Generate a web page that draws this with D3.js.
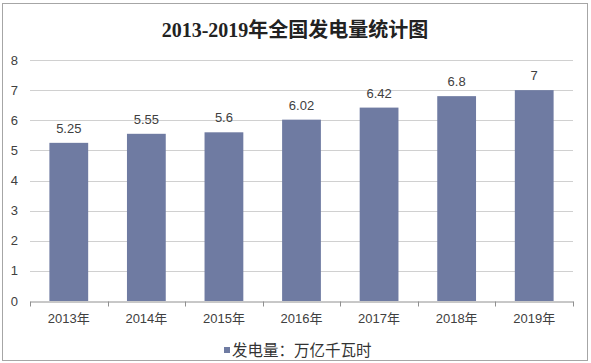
<!DOCTYPE html>
<html lang="zh">
<head>
<meta charset="utf-8">
<title>2013-2019年全国发电量统计图</title>
<script src="https://cdn.jsdelivr.net/npm/d3@7"></script>
<style>
  html, body { margin:0; padding:0; background:#fff; overflow:hidden }
  svg { display:block }
</style>
</head>
<body>
<svg id="chart"></svg>
<script>
  // data
  var years = ["2013年", "2014年", "2015年", "2016年", "2017年", "2018年", "2019年"];
  var power = [5.25, 5.55, 5.6, 6.02, 6.42, 6.8, 7];
  var yTicks = [0, 1, 2, 3, 4, 5, 6, 7, 8];
  var seriesName = "发电量：万亿千瓦时";

  var width = 591, height = 363;
  var plot = {left: 30, right: 573, top: 60, bottom: 301};
  var barColor = "#6f7ba2";
  var font = "'Liberation Sans', Arial, 'Noto Sans CJK SC', sans-serif";

  var svg = d3.select("#chart").attr("width", width).attr("height", height);

  // outer frame
  svg.append("rect")
     .attr("x", 2.5).attr("y", 3.5)
     .attr("width", width - 6).attr("height", height - 6)
     .attr("fill", "#fff").attr("stroke", "#a6a6a6");

  var x = d3.scaleBand()
     .domain(years)
     .range([plot.left, plot.right])
     .paddingInner(0.5)
     .paddingOuter(0.25);

  var y = d3.scaleLinear()
     .domain([0, 8])
     .range([plot.bottom, plot.top]);

  // gridlines
  svg.append("g")
     .selectAll("line")
     .data(yTicks.slice(1))
     .enter().append("line")
     .attr("x1", plot.left).attr("x2", plot.right)
     .attr("y1", function(d) { return Math.round(y(d)) + 0.5; })
     .attr("y2", function(d) { return Math.round(y(d)) + 0.5; })
     .attr("stroke", "#d0d0d0");

  // y labels
  svg.append("g")
     .selectAll("text")
     .data(yTicks)
     .enter().append("text")
     .attr("x", 18).attr("y", function(d) { return y(d) + 4.5; })
     .attr("text-anchor", "end")
     .attr("font-family", font).attr("font-size", 13).attr("fill", "#404040")
     .text(function(d) { return d; });

  // bars
  svg.append("g")
     .selectAll("rect")
     .data(power)
     .enter().append("rect")
     .attr("x", function(d, i) { return x(years[i]); })
     .attr("y", function(d) { return y(d); })
     .attr("width", x.bandwidth())
     .attr("height", function(d) { return y(0) - y(d); })
     .attr("fill", barColor);

  // value labels
  svg.append("g")
     .selectAll("text")
     .data(power)
     .enter().append("text")
     .attr("x", function(d, i) { return x(years[i]) + x.bandwidth() / 2; })
     .attr("y", function(d) { return y(d) - 10; })
     .attr("text-anchor", "middle")
     .attr("font-family", font).attr("font-size", 13).attr("fill", "#404040")
     .text(function(d) { return d; });

  // x axis
  var xAxis = d3.axisBottom(x).tickSize(0).tickPadding(12);
  var gx = svg.append("g")
     .attr("transform", "translate(0," + (Math.round(y(0)) + 0.5) + ")")
     .call(xAxis);
  gx.select(".domain").attr("stroke", "#909090");
  gx.selectAll("text")
     .attr("font-family", font).attr("font-size", 13).attr("fill", "#404040");

  // category boundary ticks
  var step = x.step();
  var x0 = plot.left;
  gx.append("g")
     .selectAll("line")
     .data(d3.range(years.length + 1))
     .enter().append("line")
     .attr("x1", function(i) { return Math.round(x0 + i * (plot.right - plot.left) / years.length) + 0.5; })
     .attr("x2", function(i) { return Math.round(x0 + i * (plot.right - plot.left) / years.length) + 0.5; })
     .attr("y1", 0).attr("y2", 5)
     .attr("stroke", "#909090");

  // title
  svg.append("text")
     .attr("x", 295).attr("y", 37)
     .attr("text-anchor", "middle")
     .attr("font-family", "'Liberation Serif', 'Noto Sans CJK SC', serif")
     .attr("font-weight", "bold").attr("font-size", 20).attr("fill", "#222")
     .text("2013-2019年全国发电量统计图");

  // legend
  var lg = svg.append("g").attr("transform", "translate(224,350)");
  lg.append("rect").attr("x", 0).attr("y", -3).attr("width", 6).attr("height", 6).attr("fill", barColor);
  lg.append("text").attr("x", 8).attr("y", 6)
     .attr("font-family", "'Noto Sans CJK SC', sans-serif").attr("font-size", 15.5).attr("fill", "#333")
     .text(seriesName);
</script>
</body>
</html>
